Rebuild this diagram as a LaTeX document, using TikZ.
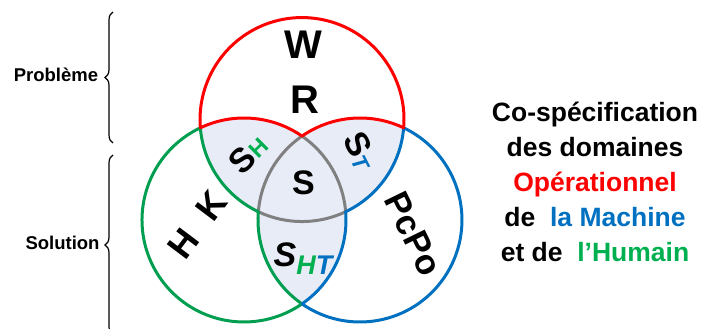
\documentclass[tikz,border=0pt]{standalone}
\usepackage{fontspec}
\setmainfont{Liberation Sans}
\usepackage{xcolor}
\usepackage{tikz}
\usetikzlibrary{calc,decorations.pathreplacing}
\definecolor{operred}{RGB}{255, 0, 0}
\definecolor{machblue}{RGB}{0, 112, 192}
\definecolor{humgreen}{RGB}{0, 158, 80}
\definecolor{humtext}{RGB}{0, 176, 80}
\definecolor{lensfill}{RGB}{231, 236, 246}
\definecolor{coregray}{RGB}{128, 128, 128}
\newcommand{\tagsub}[4]{\raisebox{#3}{\fontsize{#4}{#4}\selectfont\color{#1}#2}}

\begin{document}
\begin{tikzpicture}[x=1pt, y=1pt,
    ring/.style={line width=3pt, line join=round},
    bigtag/.style={font=\bfseries\fontsize{40}{40}\selectfont, inner sep=0pt},
    tag/.style={font=\bfseries\fontsize{34}{34}\selectfont, inner sep=0pt},
    side/.style={font=\bfseries\fontsize{18.5}{20}\selectfont, inner sep=0pt},
    title/.style={font=\bfseries\fontsize{26.5}{30}\selectfont, anchor=base, inner sep=0pt},
    bracket/.style={decorate, decoration={brace, amplitude=8pt}, line width=1.2pt}]
        \useasboundingbox (0, 0) rectangle (707, 329);
        \def\rad{102pt}

        % Circle centres
        \coordinate (cR) at (302, 209.46);
        \coordinate (cG) at (244, 109);
        \coordinate (cB) at (360, 109);

        % Crossing points
        \coordinate (UL) at ($(cG)+(115.35:\rad)$);
        \coordinate (UR) at ($(cB)+(64.65:\rad)$);
        \coordinate (LL) at ($(cB)+(175.35:\rad)$);
        \coordinate (LR) at ($(cG)+(4.65:\rad)$);
        \coordinate (T) at ($(cG)+(55.35:\rad)$);
        \coordinate (Bt) at ($(cG)+(-55.35:\rad)$);

        % Shaded overlaps
        \begin{scope}
            \clip (cR) circle (\rad);
            \fill[lensfill] (cG) circle (\rad);
            \fill[lensfill] (cB) circle (\rad);
        \end{scope}
        \begin{scope}
            \clip (cG) circle (\rad);
            \fill[lensfill] (cB) circle (\rad);
        \end{scope}

        % Central region
        \draw[ring, coregray] (T) arc[start angle=55.35, end angle=4.65, radius=\rad]
            arc[start angle=-64.65, end angle=-115.35, radius=\rad]
            arc[start angle=175.35, end angle=124.65, radius=\rad] -- cycle;

        % Human domain
        \draw[ring, humgreen] (UL) arc[start angle=115.35, end angle=304.65, radius=\rad]
            arc[start angle=235.35, end angle=175.35, radius=\rad]
            arc[start angle=244.65, end angle=184.65, radius=\rad] -- cycle;

        % Machine domain
        \draw[ring, machblue] (Bt) arc[start angle=-124.65, end angle=64.65, radius=\rad]
            arc[start angle=-4.65, end angle=-64.65, radius=\rad]
            arc[start angle=4.65, end angle=-55.35, radius=\rad] -- cycle;

        % Operational domain
        \draw[ring, operred] (UR) arc[start angle=-4.65, end angle=184.65, radius=\rad]
            arc[start angle=115.35, end angle=55.35, radius=\rad]
            arc[start angle=124.65, end angle=64.65, radius=\rad] -- cycle;

        % Region labels
        \node[bigtag] (w) at (303, 284) {W};
        \node[bigtag] (r) at (305, 229) {R};
        \node[tag] (s) at (303.5, 146.5) {S};
        \node[tag, rotate=45] (sh) at (248.5, 175) {S\tagsub{humtext}{H}{1pt}{23}};
        \node[tag, rotate=-63] (st) at (360, 178) {S\tagsub{machblue}{\itshape T}{-2pt}{22}};
        \node[tag, font=\bfseries\itshape\fontsize{34}{34}\selectfont] (sht) at (303, 70.5)
            {S\tagsub{humtext}{H}{-8pt}{27}\tagsub{machblue}{T}{-8pt}{27}};
        \node[tag, font=\bfseries\fontsize{36}{36}\selectfont, rotate=53] (hk) at (197.5, 104) {H\hspace{0.6em}K};
        \node[tag, font=\bfseries\fontsize{35}{35}\selectfont, rotate=-64] (pcpo) at (413.5, 95) {PcPo};

        % Problem / solution braces
        \draw[bracket] (113, 186) -- (113, 317);
        \draw[bracket] (113, -6) -- (113, 174);
        \node[side] (prob) at (56, 254) {Problème};
        \node[side] (sol) at (62.5, 86) {Solution};

        % Title
        \node[title] (l1) at (595, 207) {Co-spécification};
        \node[title] (l2) at (595, 172) {des domaines};
        \node[title, text=operred] (l3) at (595, 137) {Opérationnel};
        \node[title] (l4) at (595, 102) {de~~\textcolor{machblue}{la Machine}};
        \node[title] (l5) at (595, 67) {et de~~\textcolor{humtext}{l’Humain}};
    \end{tikzpicture}
\end{document}
